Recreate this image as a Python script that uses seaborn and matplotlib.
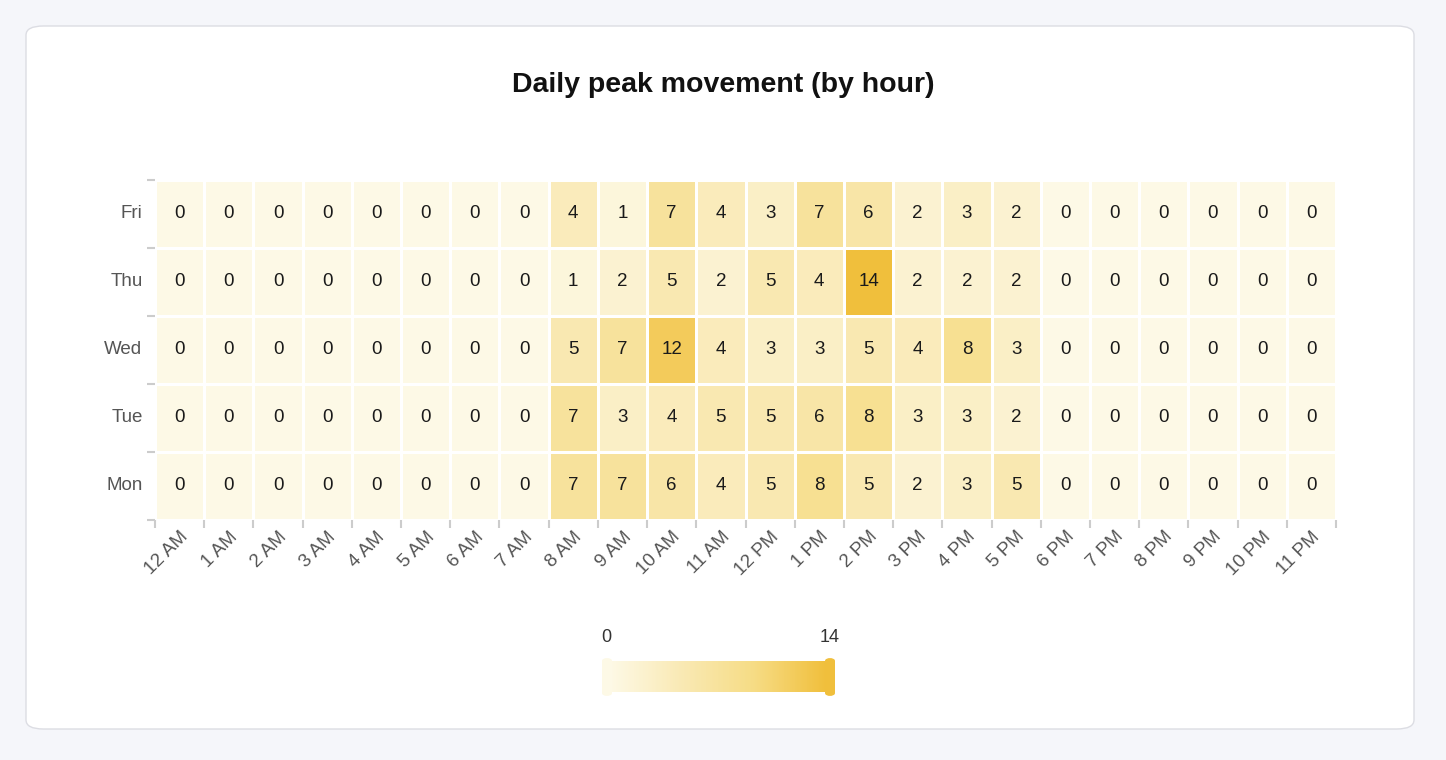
# Daily peak movement heatmap (by hour)

import numpy as np
import pandas as pd
import matplotlib.pyplot as plt
import seaborn as sns
from matplotlib.colors import LinearSegmentedColormap
from matplotlib.patches import FancyBboxPatch

days = ["Fri", "Thu", "Wed", "Tue", "Mon"]
hours = ["12 AM", "1 AM", "2 AM", "3 AM", "4 AM", "5 AM", "6 AM", "7 AM",
         "8 AM", "9 AM", "10 AM", "11 AM", "12 PM", "1 PM", "2 PM", "3 PM",
         "4 PM", "5 PM", "6 PM", "7 PM", "8 PM", "9 PM", "10 PM", "11 PM"]

fri = [0, 0, 0, 0, 0, 0, 0, 0, 4, 1, 7, 4, 3, 7, 6, 2, 3, 2, 0, 0, 0, 0, 0, 0]
thu = [0, 0, 0, 0, 0, 0, 0, 0, 1, 2, 5, 2, 5, 4, 14, 2, 2, 2, 0, 0, 0, 0, 0, 0]
wed = [0, 0, 0, 0, 0, 0, 0, 0, 5, 7, 12, 4, 3, 3, 5, 4, 8, 3, 0, 0, 0, 0, 0, 0]
tue = [0, 0, 0, 0, 0, 0, 0, 0, 7, 3, 4, 5, 5, 6, 8, 3, 3, 2, 0, 0, 0, 0, 0, 0]
mon = [0, 0, 0, 0, 0, 0, 0, 0, 7, 7, 6, 4, 5, 8, 5, 2, 3, 5, 0, 0, 0, 0, 0, 0]

df = pd.DataFrame([fri, thu, wed, tue, mon], index=days, columns=hours)

sns.set_style("white")
plt.rcParams["font.family"] = ["Liberation Sans", "DejaVu Sans"]

cmap = LinearSegmentedColormap.from_list(
    "peak", ["#fdf9e6", "#f9e9b4", "#f6dc85", "#f0bf3c"])

fig = plt.figure(figsize=(14.46, 7.6), dpi=100, facecolor="#f5f6fa")

# white card behind the chart
card = FancyBboxPatch((26 / 1446, 31 / 760), 1388 / 1446, 703 / 760,
                      boxstyle="round,pad=0,rounding_size=0.012",
                      transform=fig.transFigure, facecolor="white",
                      edgecolor="#dcdde3", linewidth=1, zorder=-10)
fig.patches.append(card)

ax = fig.add_axes([155 / 1446, 1 - 520 / 760, 1181 / 1446, 340 / 760])
cax = fig.add_axes([609 / 1446, 1 - 692 / 760, 217 / 1446, 31 / 760])

sns.heatmap(df, ax=ax, cmap=cmap, vmin=0, vmax=14, annot=True, fmt="d",
            annot_kws={"fontsize": 13.5, "color": "#1a1a1a"},
            linewidths=1.0, linecolor="white",
            cbar_ax=cax, cbar_kws={"orientation": "horizontal"})

# tick labels at cell centers, tick marks at cell borders
ax.tick_params(axis="both", which="major", length=0, labelsize=13.5,
               labelcolor="#555555")
ax.set_xticklabels(hours, rotation=45, ha="right", rotation_mode="anchor")
ax.set_yticklabels(days, rotation=0)
ax.set_xticks(np.arange(len(hours) + 1), minor=True)
ax.set_yticks(np.arange(len(days) + 1), minor=True)
ax.tick_params(axis="both", which="minor", length=6, color="#cccccc",
               width=1.5, bottom=True, left=True)
ax.tick_params(axis="x", which="major", pad=6)
ax.tick_params(axis="y", which="major", pad=9)
ax.set_xlabel("")
ax.set_ylabel("")
for s in ax.spines.values():
    s.set_visible(False)

fig.text(0.5, 1 - 85 / 760, "Daily peak movement (by hour)", ha="center",
         va="center", fontsize=20.5, fontweight="bold", color="#111111")

# colorbar styling
cax.set_xticks([])
cax.set_yticks([])
for s in cax.spines.values():
    s.set_visible(False)
cbar = ax.collections[0].colorbar
cbar.outline.set_visible(False)
fig.text(606 / 1446, 1 - 637 / 760, "0", ha="center", va="center",
         fontsize=13, color="#333333")
fig.text(830 / 1446, 1 - 637 / 760, "14", ha="center", va="center",
         fontsize=13, color="#333333")
for x0, w, c in [(602, 10, "#fdf9e6"), (825, 10, "#f0bf3c")]:
    h = FancyBboxPatch((x0 / 1446, 1 - 696 / 760), w / 1446, 38 / 760,
                       boxstyle="round,pad=0,rounding_size=0.004",
                       transform=fig.transFigure, facecolor=c,
                       edgecolor="none", zorder=5)
    fig.patches.append(h)

fig.savefig("out.png", dpi=100, facecolor=fig.get_facecolor())
